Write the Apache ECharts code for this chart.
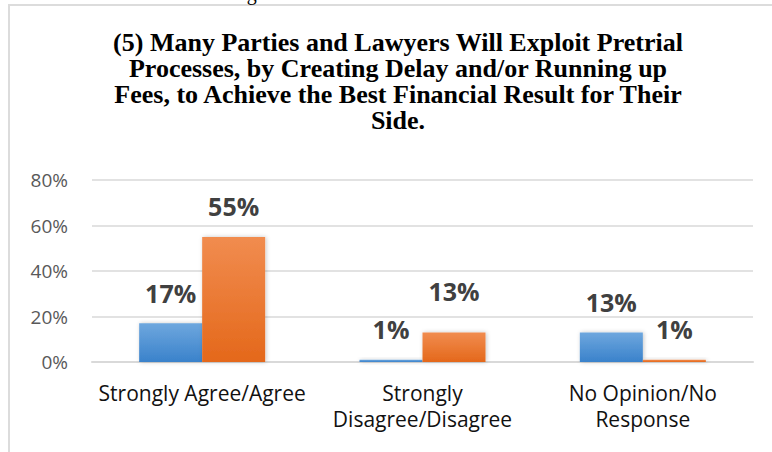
<!DOCTYPE html>
<html>
<head>
<meta charset="utf-8">
<script src="https://cdn.jsdelivr.net/npm/echarts@6/dist/echarts.min.js"></script>
<style>
  html, body { margin: 0; padding: 0; background: #fff; }
  #chart { width: 772px; height: 452px; }
</style>
</head>
<body>
<div id="chart"></div>
<script>
// data
const categories = ['Strongly Agree/Agree', 'Strongly\nDisagree/Disagree', 'No Opinion/No\nResponse']
const blueValues = [17, 1, 13]
const orangeValues = [55, 13, 1]
const yTicks = { min: 0, max: 80, interval: 20 }
const titleLines = [
  '(5) Many Parties and Lawyers Will Exploit Pretrial',
  'Processes, by Creating Delay and/or Running up',
  'Fees, to Achieve the Best Financial Result for Their',
  'Side.'
]

const chart = echarts.init(document.getElementById('chart'), null, { renderer: 'svg' })

const grad = (top, bottom) => new echarts.graphic.LinearGradient(0, 0, 0, 1, [
  { offset: 0, color: top },
  { offset: 1, color: bottom }
])

const labelStyle = {
  show: true,
  position: 'top',
  distance: 18,
  formatter: '{c}%',
  fontFamily: 'Open Sans',
  fontWeight: 'bold',
  fontSize: 25,
  color: '#404040'
}

const barShadow = {
  shadowBlur: 4,
  shadowColor: 'rgba(0,0,0,0.22)',
  shadowOffsetX: 1,
  shadowOffsetY: 0
}

// the orange label in the middle group sits a bit higher
const orangeData = orangeValues.map((v, i) => {
  if (i === 1) return { value: v, label: { distance: 29 } }
  return v
})

const option = {
  animation: false,
  title: {
    text: titleLines.join('\n'),
    left: 398,
    top: 29,
    textAlign: 'center',
    padding: 0,
    textStyle: {
      fontFamily: 'Liberation Serif',
      fontWeight: 'bold',
      fontSize: 26,
      lineHeight: 26,
      color: '#000'
    }
  },
  graphic: [
    {
      type: 'rect',
      shape: { x: 9, y: 5, width: 900, height: 600 },
      style: { fill: 'none', stroke: '#dcdcdc', lineWidth: 2 },
      silent: true
    },
    {
      type: 'text',
      left: 230,
      top: -17,
      style: { text: 'Figure 5', fontFamily: 'Liberation Serif', fontSize: 20, fill: '#000' },
      silent: true
    }
  ],
  grid: {
    left: 92,
    right: 19,
    top: 180,
    bottom: 90
  },
  xAxis: {
    type: 'category',
    data: categories,
    axisTick: { show: false },
    axisLine: { lineStyle: { color: '#d9d9d9', width: 2 } },
    axisLabel: {
      interval: 0,
      margin: 18,
      fontFamily: 'Open Sans',
      fontSize: 21,
      lineHeight: 26,
      color: '#111'
    }
  },
  yAxis: {
    type: 'value',
    min: yTicks.min,
    max: yTicks.max,
    interval: yTicks.interval,
    axisLine: { show: false },
    axisTick: { show: false },
    splitLine: { lineStyle: { color: '#d9d9d9', width: 1.5 } },
    axisLabel: {
      formatter: '{value}%',
      margin: 24,
      fontFamily: 'Open Sans',
      fontSize: 19,
      color: '#595959'
    }
  },
  series: [
    {
      name: 'Group 1',
      type: 'bar',
      barWidth: 63,
      barGap: '0%',
      data: blueValues,
      itemStyle: Object.assign({ color: grad('#6ea7de', '#3a82cb') }, barShadow),
      label: labelStyle
    },
    {
      name: 'Group 2',
      type: 'bar',
      barWidth: 63,
      barGap: '0%',
      data: orangeData,
      itemStyle: Object.assign({ color: grad('#f18c4f', '#e4681b') }, barShadow),
      label: labelStyle
    }
  ]
}

chart.setOption(option)
</script>
</body>
</html>
